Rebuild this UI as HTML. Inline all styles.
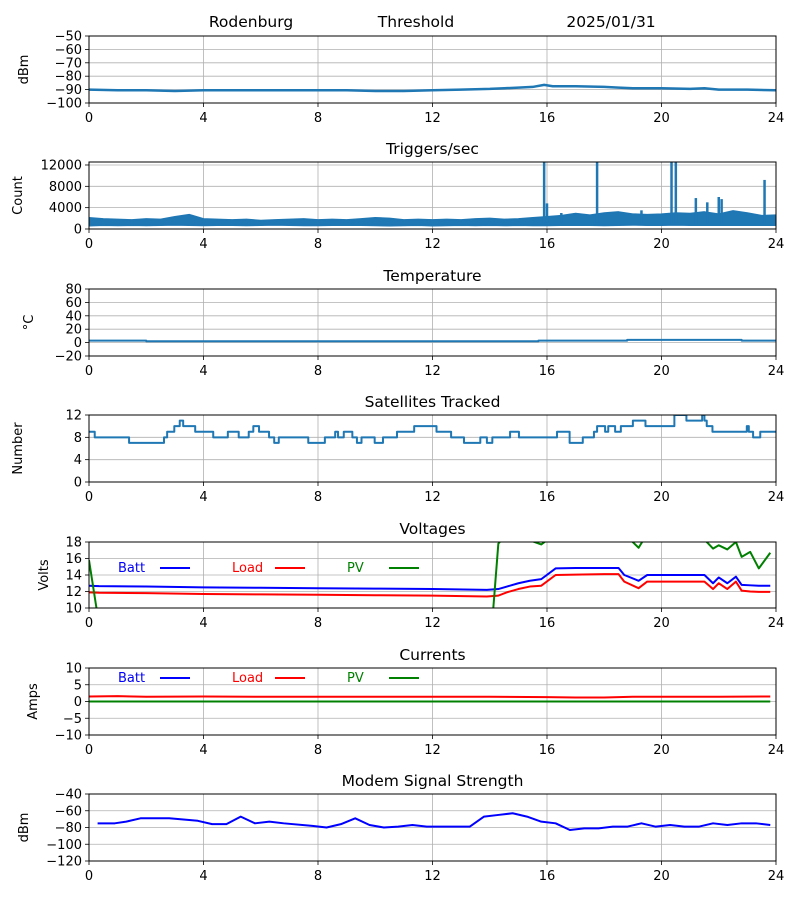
<!DOCTYPE html>
<html><head><meta charset="utf-8"><style>
body{margin:0;background:#fff}
svg{display:block;font-family:"DejaVu Sans","Liberation Sans",sans-serif}
</style></head><body>
<svg id="fig" width="800" height="900" viewBox="0 0 800 900" xmlns="http://www.w3.org/2000/svg"></svg>
<script>
// ---- data ----
const xTicks = [0,4,8,12,16,20,24];
const sigT = [0,1,2,3,4,5,6,7,8,9,10,11,12,13,14,14.5,15,15.5,15.9,16.2,17,18,18.5,19,20,21,21.5,22,23,24];
const sigV = [-90,-90.5,-90.5,-91,-90.5,-90.5,-90.5,-90.5,-90.5,-90.5,-91,-91,-90.5,-90,-89.5,-89,-88.5,-88,-86.5,-87.5,-87.5,-88,-88.5,-89,-89,-89.5,-89,-90,-90,-90.5];
const trigLow = [600,700,650,700,650,700,750,700,650,700,700,650,700,750,700,650,650,700,700,700,650,600,650,700,600,650,700,650,700,650,700,650,650,700,700,700,650,700,750,700,700,750,700,700,700,700,700,700,700];
const trigHigh = [2100,1900,1800,1700,1900,1800,2300,2700,1900,1800,1700,1800,1600,1700,1800,1900,1700,1800,1700,1900,2100,2000,1700,1800,1700,1800,1700,1900,2000,1800,1900,2100,2300,2500,2900,2600,3000,3200,2800,2700,2800,3000,2900,3200,2800,3400,3000,2500,2600];
const spikeT = [15.9,16.0,16.5,17.75,19.3,20.35,20.5,21.2,21.6,22.0,22.1,23.6];
const spikeV = [12600,4800,3000,12600,3500,12600,12600,5800,5000,6000,5600,9200];
const tempT = [0,2,2,15.7,15.7,18.8,18.8,22.8,22.8,24];
const tempV = [3,3,2,2,3,3,4,4,3,3];
const satT = [0,0.2,1.4,2.62,2.73,2.98,3.17,3.29,3.71,4.34,4.85,5.23,5.58,5.74,5.94,6.29,6.47,6.63,7.66,8.24,8.6,8.7,8.9,9.2,9.36,9.52,9.98,10.27,10.76,11.36,12.14,12.65,13.1,13.67,13.9,14.09,14.71,15.02,16.35,16.79,17.25,17.64,17.75,18.03,18.14,18.38,18.58,19.0,19.44,20.45,20.87,21.42,21.5,21.58,21.78,22.98,23.05,23.2,23.45,24];
const satN = [9,8,7,8,9,10,11,10,9,8,9,8,9,10,9,8,7,8,7,8,9,8,9,8,7,8,7,8,9,10,9,8,7,8,7,8,9,8,9,7,8,9,10,9,10,9,10,11,10,12,11,12,11,10,9,10,9,8,9,9];
const voltT = [0,0.35,2,4,6,8,10,12,13.9,14.3,14.6,15,15.4,15.8,16.3,17,18,18.5,18.7,19.2,19.5,20,21,21.5,21.8,22,22.3,22.6,22.8,23.1,23.4,23.8];
const battV = [12.7,12.65,12.6,12.5,12.45,12.4,12.35,12.3,12.2,12.3,12.6,13.0,13.3,13.5,14.8,14.85,14.85,14.85,14.0,13.3,14.0,14.0,14.0,14.0,13.0,13.7,13.0,13.8,12.8,12.75,12.7,12.7];
const loadV = [11.9,11.85,11.8,11.7,11.65,11.6,11.55,11.5,11.4,11.5,11.9,12.3,12.6,12.7,14.0,14.05,14.1,14.1,13.2,12.4,13.2,13.2,13.2,13.2,12.3,13.0,12.3,13.2,12.1,12.0,11.95,11.95];
const pvV = [15.8,8,0,0,0,0,0,0,0,17.8,19,19,18.2,17.7,19,19,19,19,19,17.3,19,19,19,18.3,17.2,17.6,17.1,18,16.2,16.8,14.8,16.7];
const curT = [0,1,2,4,6,8,10,12,14,16,17,18,19,20,22,23.8];
const loadI = [1.5,1.6,1.4,1.5,1.4,1.4,1.4,1.4,1.4,1.3,1.2,1.2,1.4,1.4,1.4,1.5];
const pvI = [0,0,0,0,0,0,0,0,0,0,0,0,0,0,0,0];
const modemT = [0.3,0.9,1.3,1.8,2.8,3.8,4.3,4.8,5.3,5.8,6.3,6.8,7.8,8.3,8.8,9.3,9.8,10.3,10.8,11.3,11.8,12.8,13.3,13.8,14.3,14.8,15.3,15.8,16.3,16.8,17.3,17.8,18.3,18.8,19.3,19.8,20.3,20.8,21.3,21.8,22.3,22.8,23.3,23.8];
const modemV = [-75,-75,-73,-69,-69,-72,-76,-76,-67,-75,-73,-75,-78,-80,-76,-69,-77,-80,-79,-77,-79,-79,-79,-67,-65,-63,-67,-73,-75,-83,-81,-81,-79,-79,-75,-79,-77,-79,-79,-75,-77,-75,-75,-77];

// ---- drawing ----
const NS='http://www.w3.org/2000/svg';
const svg=document.getElementById('fig');
const X0=89,X1=776;
function el(tag,attrs,parent){const e=document.createElementNS(NS,tag);for(const k in attrs)e.setAttribute(k,attrs[k]);(parent||svg).appendChild(e);return e;}
function xs(h){return X0+(h/24)*(X1-X0);}
function fmt(v){return String(v).replace('-','\u2212');}
let clipId=0;
function panel(name,top,bot,ymin,ymax,yticks,title,ylabel,ylx){
  const g=el('g',{});
  
  
  const ys=v=>bot-(v-ymin)/(ymax-ymin)*(bot-top);
  xTicks.forEach(t=>{el('line',{x1:xs(t),x2:xs(t),y1:top,y2:bot,stroke:'#b0b0b0','stroke-width':0.8},g);
    el('line',{x1:xs(t),x2:xs(t),y1:bot,y2:bot+4,stroke:'#000','stroke-width':0.8},g);
    const tx=el('text',{x:xs(t),y:bot+19,'font-size':13,'text-anchor':'middle'},g);tx.textContent=fmt(t);
    });
  yticks.forEach(v=>{const y=ys(v);
    if(y>top+0.5&&y<bot-0.5)el('line',{x1:X0,x2:X1,y1:y,y2:y,stroke:'#b0b0b0','stroke-width':0.8},g);
    el('line',{x1:X0-4,x2:X0,y1:y,y2:y,stroke:'#000','stroke-width':0.8},g);
    const tx=el('text',{x:X0-7,y:y+4.5,'font-size':13,'text-anchor':'end'},g);tx.textContent=fmt(v);
    });
  if(title){const tt=el('text',{x:(X0+X1)/2,y:top-8,'font-size':15.5,'text-anchor':'middle'},g);tt.textContent=title;
    }
  const yl=el('text',{x:ylx,y:(top+bot)/2,'font-size':13,'text-anchor':'middle',transform:`rotate(-90 ${ylx} ${(top+bot)/2})`},g);yl.textContent=ylabel;
  
  const id='c'+(clipId++);
  const cp=el('clipPath',{id},g);el('rect',{x:X0,y:top,width:X1-X0,height:bot-top},cp);
  const plot=el('g',{'clip-path':`url(#${id})`},g);
  const frame=()=>el('rect',{x:X0,y:top,width:X1-X0,height:bot-top,fill:'none',stroke:'#000','stroke-width':1},g);
  return {ys,plot,frame,g};
}
function line(p,T,V,color,w,name,step){
  let d='';T.forEach((t,i)=>{const x=xs(t),y=p.ys(V[i]);
    if(i===0)d+=`M${x},${y}`;else if(step)d+=`H${x}V${y}`;else d+=`L${x},${y}`;});
  const e=el('path',{d,fill:'none',stroke:color,'stroke-width':w,'stroke-linejoin':'round'},p.plot);
  
  
  return e;
}
function legend(y){
  [['Batt','blue',118,160],['Load','red',232,275],['PV','green',347,389]].forEach(([n,c,tx,lx])=>{
    const t=el('text',{x:tx,y:y+5,'font-size':13,fill:c});t.textContent=n;
    
    el('line',{x1:lx,x2:lx+30,y1:y+1,y2:y+1,stroke:c,'stroke-width':2});
  });
}
// header
[['Rodenburg',251],['Threshold',416],['2025/01/31',611]].forEach(([s,x])=>{const t=el('text',{x,y:27,'font-size':15.5,'text-anchor':'middle'});t.textContent=s;
  });

const C='#1f77b4';
// 1 signal
let p=panel('signal',36,103,-100,-50,[-50,-60,-70,-80,-90,-100],'','dBm',28);
line(p,sigT,sigV,C,2.5,'signal-line');p.frame();
// 2 triggers (noise band between low and high envelopes)
p=panel('triggers',162,229,0,12560,[0,4000,8000,12000],'Triggers/sec','Count',22);
{let d='';
 trigHigh.forEach((v,i)=>{d+=(i?'L':'M')+xs(i*0.5)+','+p.ys(v);});
 for(let i=trigLow.length-1;i>=0;i--)d+='L'+xs(i*0.5)+','+p.ys(trigLow[i]);
 d+='Z';
 const band=el('path',{d,fill:C,stroke:C,'stroke-width':1.5,'stroke-linejoin':'round'},p.plot);
 
 
 spikeT.forEach((t,i)=>{const s=el('line',{x1:xs(t),x2:xs(t),y1:p.ys(1200),y2:p.ys(spikeV[i]),stroke:C,'stroke-width':2.5},p.plot);
  });}
p.frame();
// 3 temperature
p=panel('temperature',289,356,-20,80,[-20,0,20,40,60,80],'Temperature','°C',33);
line(p,tempT,tempV,C,2,'temperature-line');p.frame();
// 4 satellites
p=panel('satellites',415,482,0,12,[0,4,8,12],'Satellites Tracked','Number',22);
line(p,satT,satN,C,2,'satellites-line',true);p.frame();
// 5 voltages
p=panel('voltages',542,608,10,18,[10,12,14,16,18],'Voltages','Volts',48);
line(p,voltT,battV,'blue',2,'batt-voltage-line');line(p,voltT,loadV,'red',2,'load-voltage-line');line(p,voltT,pvV,'green',2,'pv-voltage-line');
p.frame();legend(567);
// 6 currents
p=panel('currents',668,735,-10,10,[-10,-5,0,5,10],'Currents','Amps',37);
line(p,curT,pvI,'green',2,'pv-current-line');line(p,curT,loadI,'red',2,'load-current-line');
p.frame();legend(677);
// 7 modem
p=panel('modem',794,861,-120,-40,[-40,-60,-80,-100,-120],'Modem Signal Strength','dBm',28);
line(p,modemT,modemV,'blue',2,'modem-line');p.frame();
</script>
</body></html>
